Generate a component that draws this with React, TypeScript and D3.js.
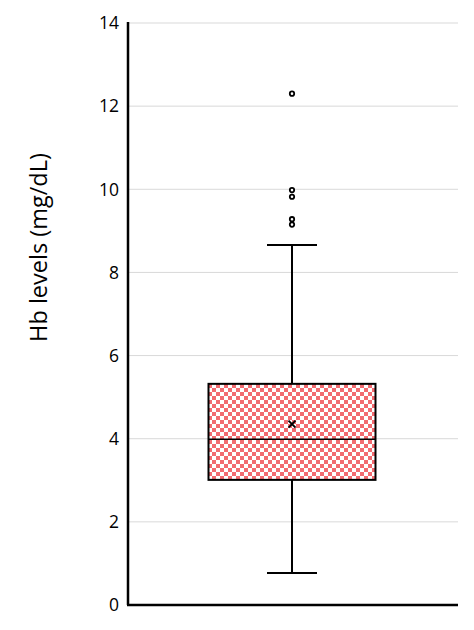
import React from "react";
import * as d3 from "d3";

const yTicks = [0, 2, 4, 6, 8, 10, 12, 14];
const boxStats = { min: 0.77, q1: 3.01, median: 3.99, q3: 5.32, max: 8.66, mean: 4.35 };
const outliers = [12.3, 9.98, 9.82, 9.28, 9.15];
const yLabel = "Hb levels (mg/dL)";

export default function App() {
  const W = 474, H = 630;
  const left = 128, right = 458, top = 23, bottom = 605;
  const y = d3.scaleLinear().domain([0, 14]).range([bottom, top]);
  const cx = 292;
  const boxHalf = 83.5;
  const capHalf = 25;
  const font = "'Open Sans', 'Liberation Sans', sans-serif";
  return (
    <svg width={W} height={H} style={{ position: "absolute", left: 0, top: 0 }}>
      <defs>
        <pattern id="checker" width={8} height={8} patternUnits="userSpaceOnUse" x={208} y={384}>
          <rect width={8} height={8} fill="#ffffff" />
          <rect width={4} height={4} fill="#f26b70" />
          <rect x={4} y={4} width={4} height={4} fill="#f26b70" />
        </pattern>
      </defs>
      <rect width={W} height={H} fill="#fff" />
      {yTicks.filter(t => t > 0).map(t => (
        <line key={t} x1={left} x2={right} y1={y(t)} y2={y(t)} stroke="#d9d9d9" strokeWidth={1} />
      ))}
      {yTicks.map(t => (
        <text key={"l" + t} x={left - 9} y={y(t)} dy="0.36em" textAnchor="end" fontSize={17.5} fontFamily={font} fill="#000">
          {t}
        </text>
      ))}
      <text transform={`translate(39,${(152 + 343) / 2}) rotate(-90)`} textAnchor="middle" dy="0.35em" fontSize={23.5} fontFamily={font} fill="#000">
        {yLabel}
      </text>
      {/* whiskers */}
      <line x1={cx} x2={cx} y1={y(boxStats.q3)} y2={y(boxStats.max)} stroke="#000" strokeWidth={2} />
      <line x1={cx} x2={cx} y1={y(boxStats.q1)} y2={y(boxStats.min)} stroke="#000" strokeWidth={2} />
      <line x1={cx - capHalf} x2={cx + capHalf} y1={y(boxStats.max)} y2={y(boxStats.max)} stroke="#000" strokeWidth={2} />
      <line x1={cx - capHalf} x2={cx + capHalf} y1={y(boxStats.min)} y2={y(boxStats.min)} stroke="#000" strokeWidth={2} />
      {/* box */}
      <rect x={cx - boxHalf} y={y(boxStats.q3)} width={boxHalf * 2} height={y(boxStats.q1) - y(boxStats.q3)} fill="url(#checker)" stroke="#000" strokeWidth={2} />
      <line x1={cx - boxHalf} x2={cx + boxHalf} y1={y(boxStats.median)} y2={y(boxStats.median)} stroke="#000" strokeWidth={1.5} />
      {/* mean marker */}
      <g transform={`translate(${cx},${y(boxStats.mean)})`} stroke="#000" strokeWidth={2}>
        <line x1={-3.5} y1={-3.5} x2={3.5} y2={3.5} />
        <line x1={-3.5} y1={3.5} x2={3.5} y2={-3.5} />
      </g>
      {outliers.map((o, i) => (
        <circle key={i} cx={cx} cy={y(o)} r={2.2} fill="#fff" stroke="#000" strokeWidth={1.8} />
      ))}
      {/* axes */}
      <line x1={left} x2={left} y1={top - 1} y2={bottom} stroke="#000" strokeWidth={2.5} />
      <line x1={left - 1} x2={right} y1={bottom} y2={bottom} stroke="#000" strokeWidth={2.5} />
    </svg>
  );
}
